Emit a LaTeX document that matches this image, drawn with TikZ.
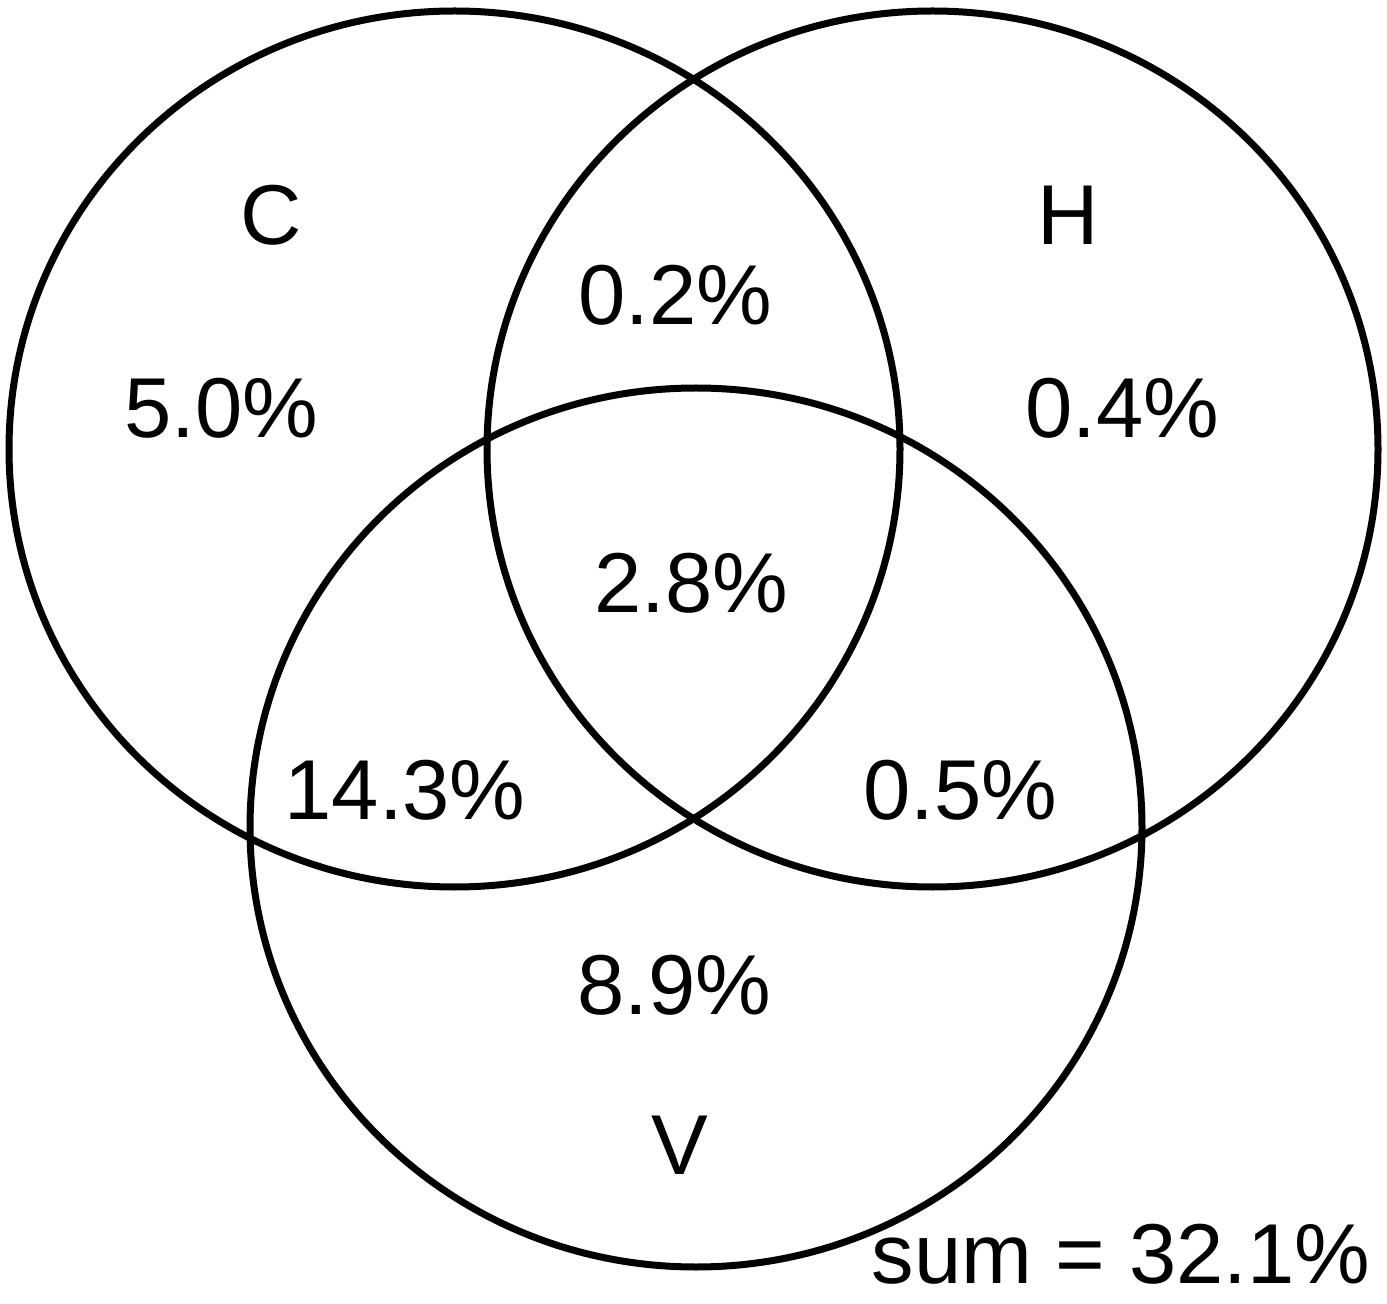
\documentclass[tikz,border=0pt]{standalone}
\usepackage{fontspec}
\setmainfont{Liberation Sans}
\begin{document}
\begin{tikzpicture}[x=0.5pt,y=-0.5pt,
  ring/.style={draw=black,line width=3.5pt},
  lbl/.style={inner sep=0pt,font=\fontsize{42.5}{50}\selectfont}]
\useasboundingbox (0,0) rectangle (1387,1304);
\fill[white] (0,0) rectangle (1387,1304);
\draw[ring] (454.5,449) ellipse [x radius=222.75pt, y radius=219pt];
\draw[ring] (932.5,449) ellipse [x radius=222.75pt, y radius=219pt];
\draw[ring] (696,827.5) ellipse [x radius=223pt, y radius=219.75pt];
\node[lbl] (lc) at (271,215) {C};
\node[lbl] (lh) at (1068,215) {H};
\node[lbl] (lv) at (680,1145) {V};
\node[lbl] (ch) at (675,295) {0.2\%};
\node[lbl] (co) at (221,408) {5.0\%};
\node[lbl] (ho) at (1122,408) {0.4\%};
\node[lbl] (chv) at (691,583) {2.8\%};
\node[lbl] (cv) at (405,790) {14.3\%};
\node[lbl] (hv) at (960,790) {0.5\%};
\node[lbl] (vo) at (674,985) {8.9\%};
\node[lbl] (sum) at (1121,1254) {sum = 32.1\%};
\end{tikzpicture}
\end{document}
